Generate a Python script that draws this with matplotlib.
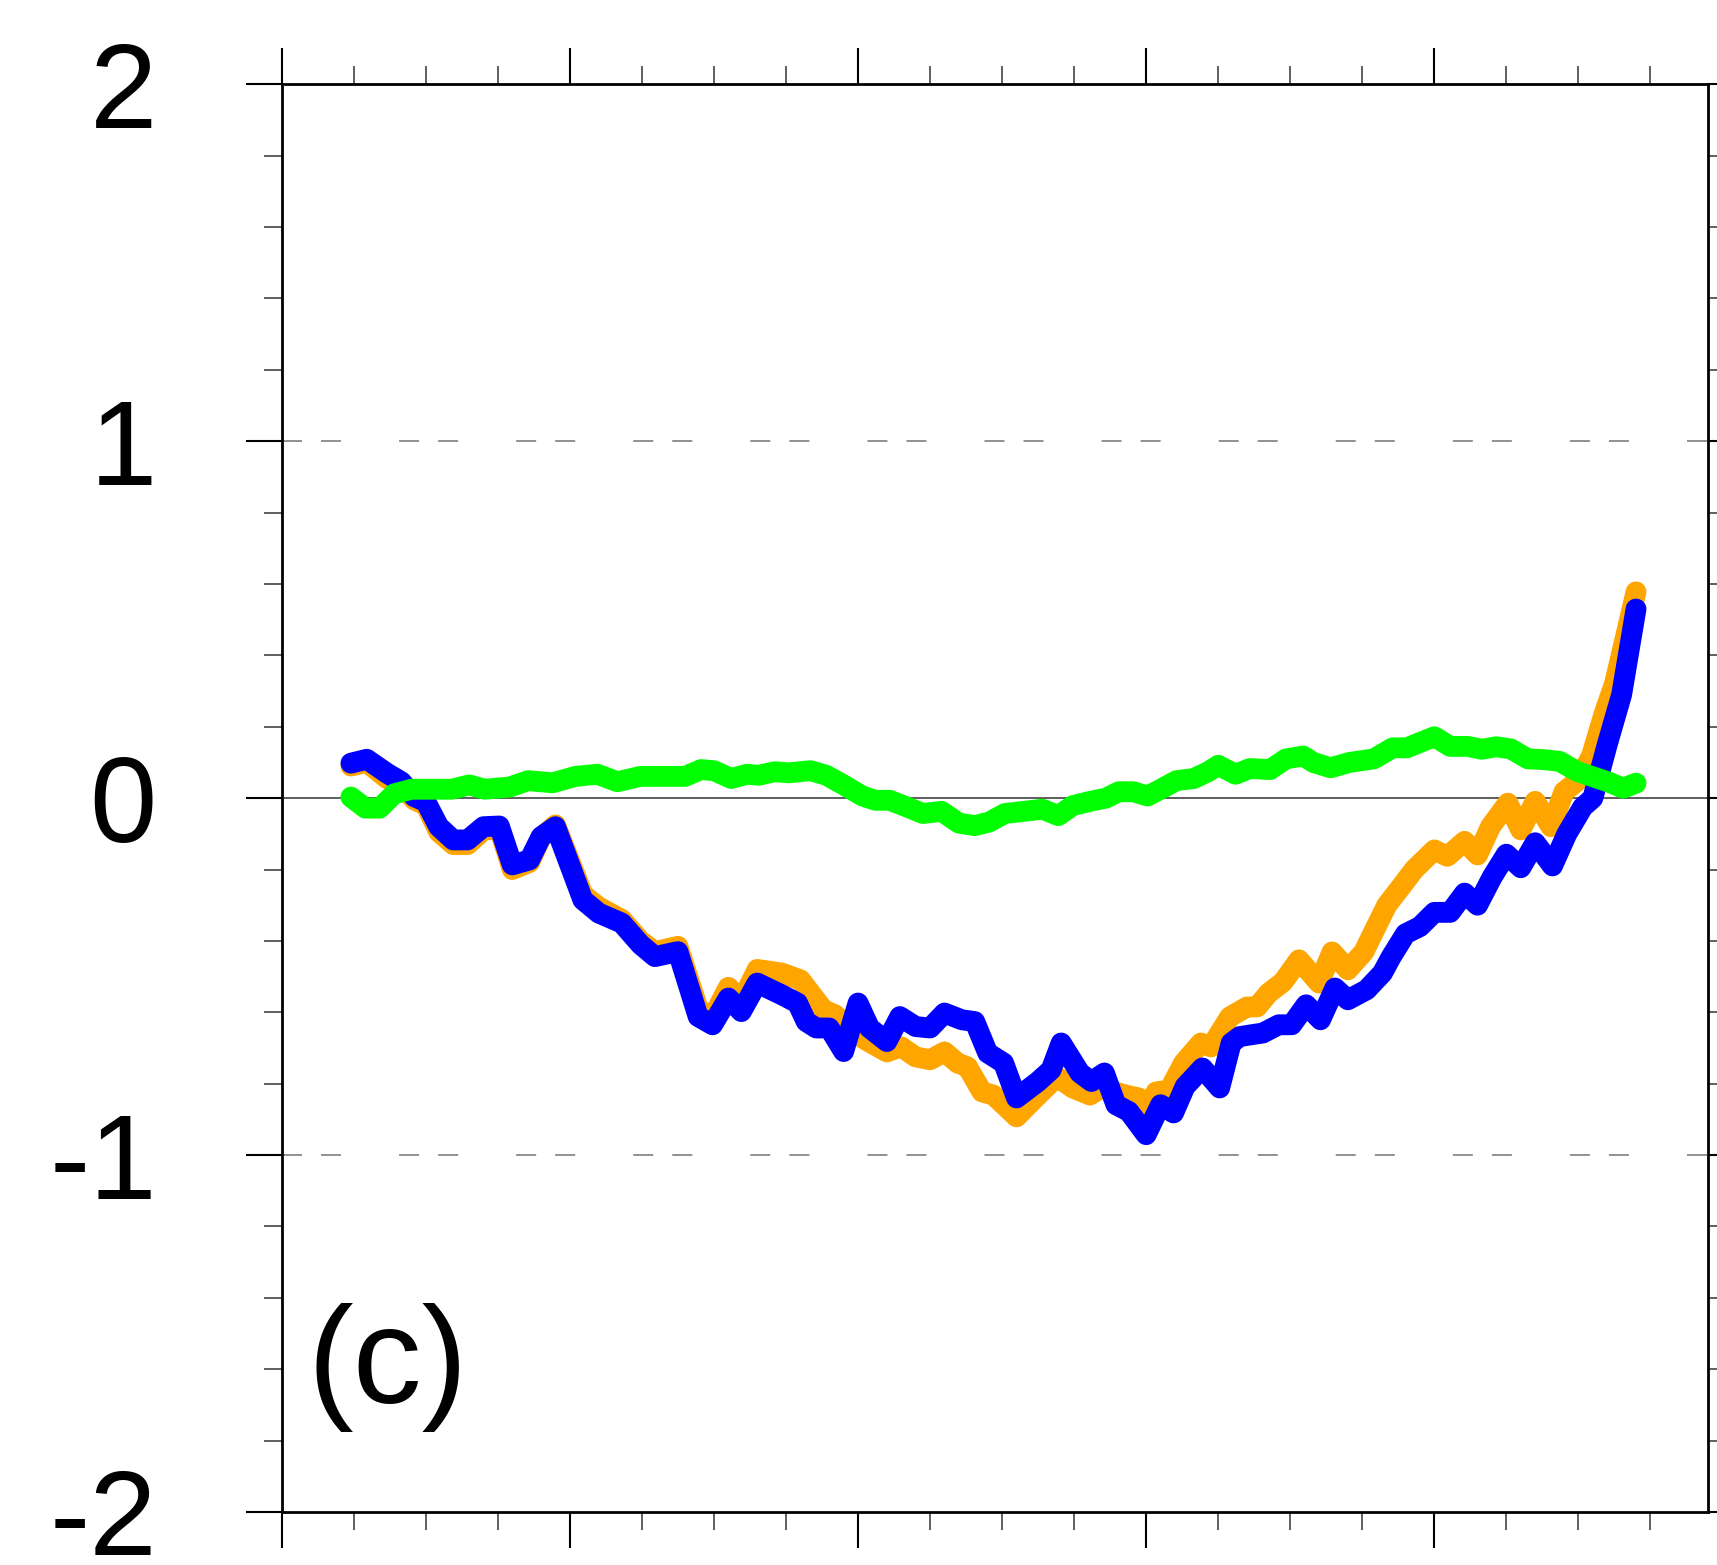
import numpy as np
import matplotlib.pyplot as plt
from matplotlib.ticker import MultipleLocator

# valeurs (c)
x_blue = [4.8, 5.9, 7.3, 8.3, 9.2, 10.0, 10.9, 11.9, 12.9, 14.0, 15.1, 16.0, 17.2, 18.0, 19.0,
          20.9, 22.0, 23.6, 24.9, 25.9, 27.5, 28.9, 29.9, 31.0, 31.9, 33.0, 34.7, 35.8, 36.4,
          37.1, 38.0, 39.0, 40.0, 40.8, 42.0, 42.9, 44.0, 45.0, 46.0, 47.2, 48.1, 49.0, 50.1,
          51.0, 52.5, 53.4, 54.1, 55.4, 56.2, 57.1, 57.9, 58.8, 60.0, 61.0, 61.9, 62.7, 63.9,
          65.1, 65.9, 66.5, 68.1, 69.2, 70.1, 71.1, 72.1, 73.1, 74.0, 75.3, 76.4, 77.0, 78.0,
          79.0, 80.0, 81.1, 82.1, 83.0, 84.0, 85.0, 86.0, 87.0, 88.2, 89.2, 90.3, 91.0, 92.0,
          93.0, 94.0]
y_blue = [0.098, 0.109, 0.070, 0.046, 0.004, -0.010, -0.080, -0.117, -0.117, -0.080, -0.078,
          -0.187, -0.173, -0.108, -0.080, -0.285, -0.322, -0.350, -0.410, -0.444, -0.430,
          -0.612, -0.635, -0.560, -0.598, -0.518, -0.551, -0.574, -0.626, -0.644, -0.644,
          -0.710, -0.574, -0.644, -0.682, -0.612, -0.640, -0.644, -0.602, -0.621, -0.626,
          -0.714, -0.742, -0.840, -0.794, -0.761, -0.686, -0.770, -0.794, -0.770, -0.859,
          -0.878, -0.943, -0.859, -0.882, -0.808, -0.756, -0.812, -0.686, -0.668, -0.658,
          -0.635, -0.635, -0.579, -0.621, -0.532, -0.565, -0.537, -0.490, -0.445, -0.380,
          -0.360, -0.320, -0.320, -0.266, -0.300, -0.222, -0.157, -0.195, -0.125, -0.190,
          -0.100, -0.025, 0.000, 0.150, 0.290, 0.530]

x_orange = [4.8, 5.9, 7.3, 8.3, 9.2, 10.0, 10.9, 11.9, 12.9, 14.0, 15.1, 16.0, 17.2, 18.0, 19.0,
            20.9, 22.0, 23.6, 24.9, 25.9, 27.5, 28.9, 29.9, 31.0, 31.9, 33.0, 34.7, 36.0, 37.6,
            38.4, 39.3, 40.5, 42.0, 43.0, 44.0, 45.0, 46.0, 46.9, 47.6, 48.6, 49.4, 51.0, 52.5,
            53.8, 54.9, 56.1, 57.0, 57.8, 58.6, 59.5, 60.0, 60.7, 61.6, 62.6, 63.8, 64.5, 65.8,
            67.0, 67.7, 68.5, 69.5, 70.6, 72.0, 72.9, 74.0, 75.1, 76.7, 77.7, 78.6, 80.0, 80.9,
            82.1, 83.0, 83.9, 85.1, 86.0, 87.0, 88.1, 89.0, 89.9, 90.9, 91.8, 92.5, 94.0]
y_orange = [0.090, 0.100, 0.055, 0.035, -0.005, -0.020, -0.095, -0.130, -0.130, -0.090, -0.085,
            -0.200, -0.180, -0.110, -0.075, -0.270, -0.305, -0.340, -0.400, -0.430, -0.415,
            -0.590, -0.615, -0.530, -0.570, -0.480, -0.490, -0.509, -0.593, -0.607, -0.640,
            -0.677, -0.711, -0.697, -0.725, -0.733, -0.711, -0.742, -0.753, -0.823, -0.832,
            -0.893, -0.832, -0.781, -0.812, -0.832, -0.809, -0.823, -0.832, -0.840, -0.874,
            -0.823, -0.818, -0.742, -0.686, -0.697, -0.613, -0.585, -0.585, -0.546, -0.515,
            -0.453, -0.518, -0.431, -0.481, -0.431, -0.300, -0.248, -0.200, -0.145, -0.163,
            -0.121, -0.159, -0.080, -0.014, -0.089, -0.009, -0.080, 0.018, 0.047, 0.117,
            0.239, 0.320, 0.578]

x_green = [4.8, 5.8, 6.8, 7.8, 9.0, 10.5, 11.8, 13.0, 14.1, 15.8, 17.1, 18.8, 20.4, 21.9, 23.3,
           24.9, 28.0, 29.1, 30.0, 31.2, 32.3, 33.1, 34.2, 35.2, 36.7, 37.8, 39.0, 40.3, 41.2,
           42.2, 43.4, 44.5, 45.8, 47.0, 48.1, 49.1, 50.2, 51.5, 52.8, 53.9, 54.9, 56.1, 57.2,
           58.1, 59.1, 60.1, 61.0, 62.1, 63.3, 64.3, 65.0, 66.2, 67.2, 68.6, 69.7, 70.9, 71.6,
           72.8, 74.1, 75.8, 77.1, 78.1, 79.0, 80.0, 81.1, 82.3, 83.3, 84.3, 85.3, 86.5, 87.6,
           88.7, 89.9, 91.0, 92.1, 93.1, 94.0]
y_green = [0.003, -0.028, -0.028, 0.012, 0.025, 0.025, 0.025, 0.037, 0.025, 0.031, 0.049, 0.043,
           0.061, 0.067, 0.046, 0.061, 0.061, 0.080, 0.077, 0.055, 0.067, 0.064, 0.074, 0.071,
           0.077, 0.064, 0.037, 0.006, -0.006, -0.006, -0.025, -0.043, -0.037, -0.070, -0.077,
           -0.067, -0.043, -0.037, -0.031, -0.049, -0.021, -0.009, 0.000, 0.018, 0.018, 0.006,
           0.025, 0.049, 0.055, 0.074, 0.092, 0.067, 0.083, 0.080, 0.110, 0.118, 0.100, 0.085,
           0.100, 0.110, 0.141, 0.141, 0.156, 0.172, 0.145, 0.145, 0.137, 0.144, 0.138, 0.110,
           0.108, 0.103, 0.075, 0.060, 0.045, 0.028, 0.042]

y_ticks = [-2, -1, 0, 1, 2]
y_labels = ['-2', '-1', '0', '1', '2']

plt.rcParams['font.family'] = ['Liberation Sans', 'DejaVu Sans']
plt.rcParams['lines.scale_dashes'] = False

fig = plt.figure(figsize=(17.17, 15.65), dpi=100)
ax = fig.add_axes([0.1641, 0.0339, 0.8307, 0.9122])

# lignes de reference
ax.axhline(0, color='#333333', lw=1.1, zorder=1)
for yy in (-1, 1):
    ref = ax.axhline(yy, color='#888888', lw=1.3, zorder=1)
    ref.set_dashes((14.4, 13.7, 14.4, 41.8))

kw = dict(lw=15, solid_capstyle='round', solid_joinstyle='round')
ax.plot(x_orange, y_orange, color='#FFA500', zorder=2, **kw)
ax.plot(x_blue, y_blue, color='#0000FF', zorder=3, **kw)
ax.plot(x_green, y_green, color='#00FF00', zorder=4, **kw)

ax.set_xlim(0, 99)
ax.set_ylim(-2, 2)
ax.xaxis.set_major_locator(MultipleLocator(20))
ax.xaxis.set_minor_locator(MultipleLocator(5))
ax.set_yticks(y_ticks)
ax.set_yticklabels(y_labels)
ax.yaxis.set_minor_locator(MultipleLocator(0.2))

ax.tick_params(which='both', direction='out', top=True, right=True,
               labelbottom=False, labeltop=False, labelright=False)
ax.tick_params(which='major', length=26, width=1.5, labelsize=87, pad=64)
ax.tick_params(which='minor', length=13, width=1.1, color='#333333')
for sp in ax.spines.values():
    sp.set_linewidth(2)

ax.text(0.018, 0.0763, '(c)', transform=ax.transAxes, fontsize=99, va='baseline', ha='left')

plt.savefig('out.png', dpi=100)
